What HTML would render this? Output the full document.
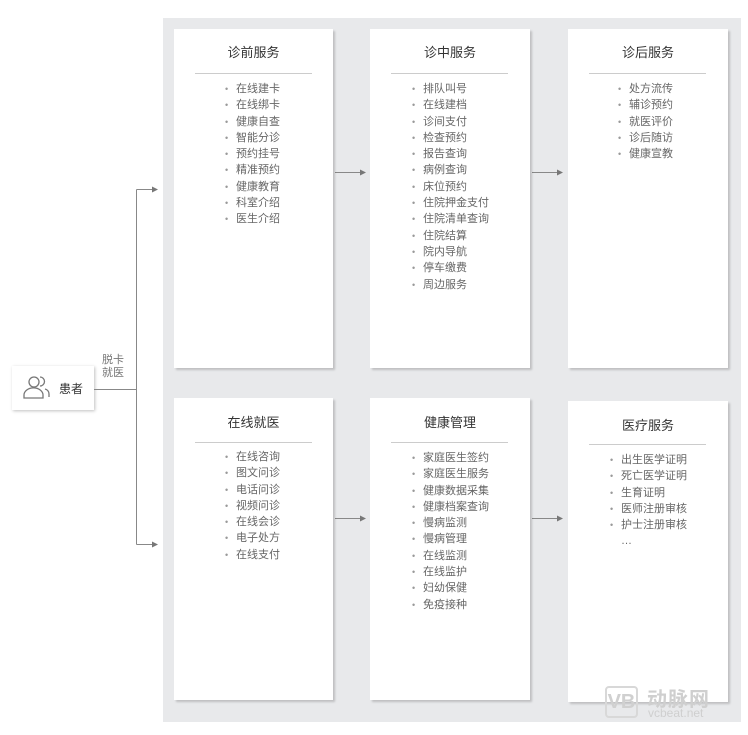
<!DOCTYPE html>
<html><head><meta charset="utf-8"><style>
*{margin:0;padding:0;box-sizing:border-box}
body{width:748px;height:735px;background:#fff;position:relative;overflow:hidden;font-family:"Liberation Sans","Noto Sans CJK SC",sans-serif;color:#555}
.panel{position:absolute;left:163px;top:18px;width:578px;height:704px;background:#e8e9eb}
.card{position:absolute;background:#fff;box-shadow:2px 2px 2px rgba(0,0,0,0.18)}
.card h3{position:absolute;left:0;right:0;text-align:center;font-weight:normal;font-size:13px;color:#333}
.card .hr{position:absolute;left:21px;width:117px;height:1px;background:#ccc}
.card ul{position:absolute;list-style:none;font-size:11px;line-height:16.3px;color:#666}
.card li:before{content:"•";color:#999;display:inline-block;width:11px;font-size:9px}
.card li.nb:before{content:"";}
</style></head><body>
<div class="panel"></div>

<div style="position:absolute;left:12px;top:366px;width:82px;height:44px;background:#fff;box-shadow:1px 1px 3px rgba(0,0,0,0.25)"></div>
<svg style="position:absolute;left:0;top:0" width="748" height="735">
  <g fill="none" stroke="#777" stroke-width="1.3">
    <circle cx="34" cy="382" r="5"/>
    <path d="M24 398 v-3 a8 6 0 0 1 19 0 v3 z"/>
    <path d="M40 377 a4.5 4.5 0 0 1 0 9"/>
    <path d="M45 389 a5 5 0 0 1 4 5 v3"/>
  </g>
  <g stroke="#888" stroke-width="1" fill="none">
    <path d="M94 389.5 H136.5 M136.5 189.5 V544.5 M136.5 189.5 H153 M136.5 544.5 H153"/>
    <path d="M335 172.5 H361 M532 172.5 H558 M335 518.5 H361 M532 518.5 H558"/>
  </g>
  <g fill="#777">
    <path d="M158 189.5 l-6 -3 v6z"/><path d="M158 544.5 l-6 -3 v6z"/>
    <path d="M366 172.5 l-6 -3 v6z"/><path d="M563 172.5 l-6 -3 v6z"/>
    <path d="M366 518.5 l-6 -3 v6z"/><path d="M563 518.5 l-6 -3 v6z"/>
  </g>
</svg>
<div style="position:absolute;left:59px;top:380px;font-size:12px;color:#333">患者</div>
<div style="position:absolute;left:102px;top:354px;font-size:11px;line-height:13px;color:#777">脱卡<br>就医</div>

<div class="card" style="left:174px;top:29px;width:159px;height:339px">
  <h3 style="top:13px">诊前服务</h3><div class="hr" style="top:44px"></div>
  <ul style="left:51px;top:52px"><li>在线建卡</li><li>在线绑卡</li><li>健康自查</li><li>智能分诊</li><li>预约挂号</li><li>精准预约</li><li>健康教育</li><li>科室介绍</li><li>医生介绍</li></ul>
</div>
<div class="card" style="left:370px;top:29px;width:160px;height:339px">
  <h3 style="top:13px">诊中服务</h3><div class="hr" style="top:44px"></div>
  <ul style="left:42px;top:52px"><li>排队叫号</li><li>在线建档</li><li>诊间支付</li><li>检查预约</li><li>报告查询</li><li>病例查询</li><li>床位预约</li><li>住院押金支付</li><li>住院清单查询</li><li>住院结算</li><li>院内导航</li><li>停车缴费</li><li>周边服务</li></ul>
</div>
<div class="card" style="left:568px;top:29px;width:160px;height:339px">
  <h3 style="top:13px">诊后服务</h3><div class="hr" style="top:44px"></div>
  <ul style="left:50px;top:52px"><li>处方流传</li><li>辅诊预约</li><li>就医评价</li><li>诊后随访</li><li>健康宣教</li></ul>
</div>
<div class="card" style="left:174px;top:398px;width:159px;height:302px">
  <h3 style="top:14px">在线就医</h3><div class="hr" style="top:44px"></div>
  <ul style="left:51px;top:51px"><li>在线咨询</li><li>图文问诊</li><li>电话问诊</li><li>视频问诊</li><li>在线会诊</li><li>电子处方</li><li>在线支付</li></ul>
</div>
<div class="card" style="left:370px;top:398px;width:160px;height:302px">
  <h3 style="top:14px">健康管理</h3><div class="hr" style="top:44px"></div>
  <ul style="left:42px;top:52px"><li>家庭医生签约</li><li>家庭医生服务</li><li>健康数据采集</li><li>健康档案查询</li><li>慢病监测</li><li>慢病管理</li><li>在线监测</li><li>在线监护</li><li>妇幼保健</li><li>免疫接种</li></ul>
</div>
<div class="card" style="left:568px;top:401px;width:160px;height:301px">
  <h3 style="top:14px">医疗服务</h3><div class="hr" style="top:43px"></div>
  <ul style="left:42px;top:51px"><li>出生医学证明</li><li>死亡医学证明</li><li>生育证明</li><li>医师注册审核</li><li>护士注册审核</li><li class="nb" style="padding-left:0">…</li></ul>
</div>

<div style="position:absolute;left:605px;top:686px;width:33px;height:32px;border:2px solid #d8d8d8;border-radius:4px;color:#d0d0d0;font-size:20px;font-weight:bold;text-align:center;line-height:28px">VB</div>
<div style="position:absolute;left:647px;top:683px;color:#cfcfcf;font-size:20px;font-weight:bold;letter-spacing:1px">动脉网</div>
<div style="position:absolute;left:648px;top:706px;color:#cfcfcf;font-size:12px">vcbeat.net</div>
</body></html>
